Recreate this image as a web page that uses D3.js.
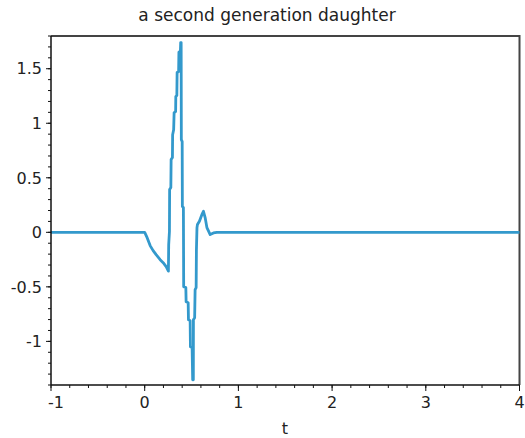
<!DOCTYPE html>
<html><head><meta charset="utf-8">
<script src="https://cdn.jsdelivr.net/npm/d3@7"></script>
<style>body{margin:0;background:#fff}svg{display:block}text{font-family:"DejaVu Sans",sans-serif}</style>
</head><body>
<svg id="c" width="525" height="438"></svg>
<script>
const title = "a second generation daughter";
const xLabel = "t";
const xTicks = [-1, 0, 1, 2, 3, 4];
const yTicks = [-1, -0.5, 0, 0.5, 1, 1.5];
const tValues = [-1, 0, 0.026, 0.058, 0.090, 0.122, 0.165, 0.197, 0.229, 0.253,
  0.256, 0.264, 0.266, 0.279, 0.282, 0.296, 0.298, 0.309, 0.314, 0.330,
  0.332, 0.343, 0.346, 0.362, 0.365, 0.381, 0.384, 0.389, 0.391, 0.400,
  0.402, 0.413, 0.416, 0.439, 0.442, 0.464, 0.467, 0.485, 0.488, 0.506,
  0.512, 0.519, 0.520, 0.533, 0.538, 0.549, 0.552, 0.558, 0.563, 0.584,
  0.610, 0.627, 0.645, 0.664, 0.699, 0.734, 0.770, 4];
const psiValues = [0, 0, -0.049, -0.122, -0.168, -0.205, -0.251, -0.278, -0.315, -0.356,
  -0.113, 0.006, 0.392, 0.410, 0.667, 0.686, 0.894, 0.940, 1.098, 1.107,
  1.245, 1.254, 1.465, 1.474, 1.651, 1.661, 1.740, 1.740, 0.850, 0.832,
  0.236, 0.227, -0.498, -0.507, -0.636, -0.645, -0.801, -0.810, -1.049, -1.058,
  -1.352, -1.352, -0.801, -0.783, -0.526, -0.507, -0.159, 0.043, 0.071, 0.101,
  0.162, 0.193, 0.135, 0.043, -0.021, -0.006, 0, 0];

const svg = d3.select("#c");
const L = 51, R = 519.5, T = 36, B = 385;
const x = d3.scaleLinear().domain([-1, 4]).range([L, R]);
const y = d3.scaleLinear().domain([-1.4, 1.8]).range([B, T]);

svg.append("path").attr("d", `M${L},${T}H${R}V${B}`).attr("fill","none")
  .attr("stroke","#444").attr("stroke-width",2);

const data = tValues.map((t,i)=>({t, v: psiValues[i]}));
svg.append("path").datum(data)
  .attr("fill","none").attr("stroke","#3399cc").attr("stroke-width",2.8)
  .attr("stroke-linejoin","round")
  .attr("d", d3.line().x(d=>x(d.t)).y(d=>y(d.v)));

const xMinor = d3.range(-1, 4.001, 0.2);
const gx = svg.append("g").attr("transform",`translate(0,${B})`);
gx.append("line").attr("x1",L).attr("x2",R).attr("stroke","#111").attr("stroke-width",1.5);
gx.selectAll(".mn").data(xMinor).join("line").attr("x1",d=>x(d)).attr("x2",d=>x(d))
  .attr("y1",0).attr("y2",3).attr("stroke","#111");
gx.selectAll(".mj").data(xTicks).join("line").attr("x1",d=>x(d)).attr("x2",d=>x(d))
  .attr("y1",0).attr("y2",6).attr("stroke","#111");
gx.selectAll("text").data(xTicks).join("text")
  .attr("x",(d,i)=>x(d)+(i===0?5:0)).attr("y",23).attr("text-anchor","middle")
  .attr("font-size",16).attr("fill","#222").text(d=>String(d));

const yMinor = d3.range(-14, 18.5, 1).map(d=>d/10);
const gy = svg.append("g").attr("transform",`translate(${L},0)`);
gy.append("line").attr("y1",T).attr("y2",B).attr("stroke","#111").attr("stroke-width",1.5);
gy.selectAll(".mn").data(yMinor).join("line").attr("y1",d=>y(d)).attr("y2",d=>y(d))
  .attr("x1",0).attr("x2",-3).attr("stroke","#111");
gy.selectAll(".mj").data(yTicks).join("line").attr("y1",d=>y(d)).attr("y2",d=>y(d))
  .attr("x1",0).attr("x2",-5).attr("stroke","#111");
gy.selectAll("text").data(yTicks).join("text")
  .attr("x",-9).attr("y",d=>y(d)).attr("dy","0.36em").attr("text-anchor","end")
  .attr("font-size",16).attr("fill","#222").text(d=>String(d));

svg.append("text").attr("x",267).attr("y",21).attr("text-anchor","middle")
  .attr("font-size",17).attr("fill","#222").text(title);
svg.append("text").attr("x",285).attr("y",434).attr("text-anchor","middle")
  .attr("font-size",16).attr("fill","#222").text(xLabel);
</script>
</body></html>
